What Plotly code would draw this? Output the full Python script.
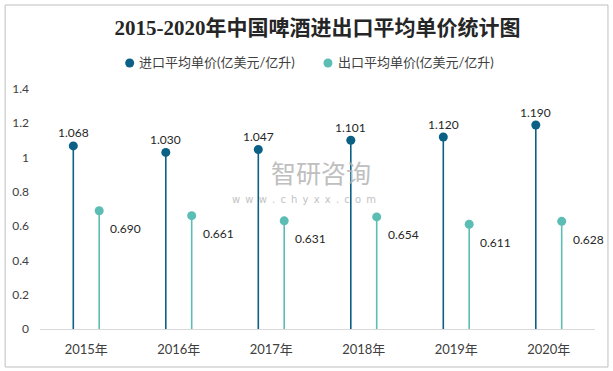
import plotly.graph_objects as go

years = ["2015年", "2016年", "2017年", "2018年", "2019年", "2020年"]
import_price = [1.068, 1.030, 1.047, 1.101, 1.120, 1.190]
export_price = [0.690, 0.661, 0.631, 0.654, 0.611, 0.628]
y_ticks = [0, 0.2, 0.4, 0.6, 0.8, 1, 1.2, 1.4]
name_import = "进口平均单价(亿美元/亿升)"
name_export = "出口平均单价(亿美元/亿升)"
title_text = "2015-2020年中国啤酒进出口平均单价统计图"

C_IMP = "#0b6185"
C_EXP = "#5cbdb5"
FONT = "Lato, Noto Sans CJK SC, sans-serif"
OFF = 0.14

# plot-area pixel geometry (for paper-coordinate helpers)
PL, PR, PT, PB = 38, 595, 89, 329


def px(x):
    return (x - PL) / (PR - PL)


def py(y):
    return (PB - y) / (PB - PT)


idx = list(range(len(years)))
xi = [i - OFF for i in idx]
xe = [i + OFF for i in idx]


def stems(xs, ys):
    sx, sy = [], []
    for x, y in zip(xs, ys):
        sx += [x, x, None]
        sy += [0, y, None]
    return sx, sy


fig = go.Figure()
sx, sy = stems(xi, import_price)
fig.add_trace(go.Scatter(x=sx, y=sy, mode="lines", line=dict(color=C_IMP, width=1.6),
                         showlegend=False, hoverinfo="skip"))
sx, sy = stems(xe, export_price)
fig.add_trace(go.Scatter(x=sx, y=sy, mode="lines", line=dict(color=C_EXP, width=1.6),
                         showlegend=False, hoverinfo="skip"))
fig.add_trace(go.Scatter(x=xi, y=import_price, mode="markers", name=name_import,
                         marker=dict(color=C_IMP, size=9), showlegend=False))
fig.add_trace(go.Scatter(x=xe, y=export_price, mode="markers", name=name_export,
                         marker=dict(color=C_EXP, size=9), showlegend=False))

for x, v in zip(xi, import_price):
    fig.add_annotation(x=x, y=v, text=f"{v:.3f}", showarrow=False, yshift=13,
                       xanchor="center", yanchor="middle",
                       font=dict(family=FONT, size=12, color="#262626"))
for x, v in zip(xe, export_price):
    fig.add_annotation(x=x, y=v, text=f"{v:.3f}", showarrow=False, yshift=-18, xshift=9,
                       xanchor="left", yanchor="middle",
                       font=dict(family=FONT, size=12, color="#262626"))

# manual legend
for cx, tx, col, name in [(128, 135, C_IMP, name_import), (327, 335, C_EXP, name_export)]:
    fig.add_shape(type="circle", xref="paper", yref="paper", xsizemode="pixel", ysizemode="pixel",
                  xanchor=px(cx), yanchor=py(63), x0=-4.5, x1=4.5, y0=-4.5, y1=4.5,
                  fillcolor=col, line=dict(width=0))
    fig.add_annotation(xref="paper", yref="paper", x=px(tx), y=py(62), text=name, showarrow=False,
                       xanchor="left", yanchor="middle",
                       font=dict(family=FONT, size=13, color="#404040"))

# watermark
fig.add_annotation(xref="paper", yref="paper", x=px(320), y=py(192), text="智研咨询", showarrow=False,
                   xanchor="center", yanchor="bottom",
                   font=dict(family="Noto Sans CJK SC", size=25, color="#b4b4b4"), opacity=0.85)
sp = "\u00a0\u2009"
fig.add_annotation(xref="paper", yref="paper", x=px(303), y=py(192),
                   text=sp.join(list("www.chyxx.com")), xanchor="center", yanchor="top",
                   showarrow=False, font=dict(family="DejaVu Sans", size=10, color="#b8b8b8"), opacity=0.85)

# outer border
fig.add_shape(type="rect", xref="paper", yref="paper",
              x0=px(3), x1=px(608), y0=py(367), y1=py(5),
              line=dict(color="#bfbfbf", width=1), fillcolor="rgba(0,0,0,0)")

fig.update_layout(
    width=613, height=371,
    margin=dict(l=PL, r=613 - PR, t=PT, b=371 - PB),
    paper_bgcolor="white", plot_bgcolor="white",
    title=dict(text=title_text, x=0.5, xref="paper", y=1 - 28 / 371, yanchor="middle",
               font=dict(family="Liberation Serif, Noto Sans CJK SC, serif", size=21,
                         color="#262626", weight="bold")),
    xaxis=dict(range=[-0.5, 5.5], tickmode="array", tickvals=idx, ticktext=years,
               showgrid=False, zeroline=False, showline=True, linecolor="#d9d9d9", linewidth=1,
               ticks="", ticklabelstandoff=8,
               tickfont=dict(family=FONT, size=13, color="#404040")),
    yaxis=dict(range=[0, 1.4], tickmode="array", tickvals=y_ticks,
               showgrid=False, zeroline=False, showline=False, ticks="",
               ticklabelstandoff=10,
               tickfont=dict(family=FONT, size=12, color="#404040")),
    showlegend=False,
)

fig.write_html("out.html", post_script="document.body.style.margin='0';",
               config={"displayModeBar": False})
